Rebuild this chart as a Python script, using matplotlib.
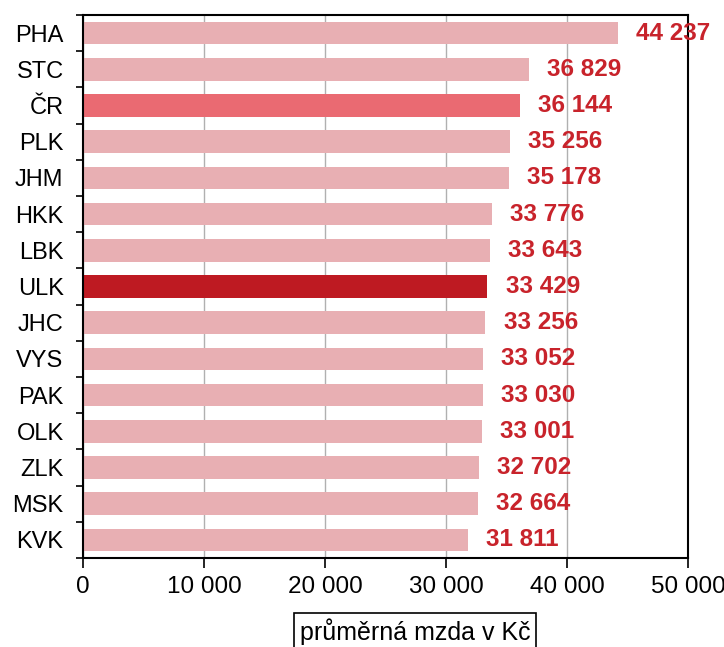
import matplotlib
matplotlib.use("Agg")
import matplotlib.pyplot as plt
from matplotlib.ticker import FuncFormatter, FixedLocator

regions = ["PHA", "STC", "ČR", "PLK", "JHM", "HKK", "LBK", "ULK", "JHC",
           "VYS", "PAK", "OLK", "ZLK", "MSK", "KVK"]
wages = [44237, 36829, 36144, 35256, 35178, 33776, 33643, 33429, 33256,
         33052, 33030, 33001, 32702, 32664, 31811]
xticks = [0, 10000, 20000, 30000, 40000, 50000]
xlabel = "průměrná mzda v Kč"

plt.rcParams['font.family'] = ['Liberation Sans', 'DejaVu Sans']

light = "#E8AFB3"
cr_col = "#EA6A72"
ulk_col = "#BE1A22"
colors = [cr_col if r == "ČR" else ulk_col if r == "ULK" else light for r in regions]

fig = plt.figure(figsize=(7.24, 6.47), dpi=100)
ax = fig.add_axes([83/724, 1-558/647, (688-83)/724, (558-15)/647])

n = len(regions)
ypos = list(range(n))
ax.barh(ypos, wages, height=0.62, color=colors, zorder=2)
ax.set_ylim(n - 0.5, -0.5)
ax.set_xlim(0, 50000)

fmt = lambda v: f"{int(v):,}".replace(",", " ")
for y, w in zip(ypos, wages):
    ax.text(w + 1500, y, fmt(w), va="center", ha="left", color="#C8232B",
            fontsize=17.5, fontweight="bold", zorder=3, clip_on=False)

ax.xaxis.set_major_locator(FixedLocator(xticks))
ax.xaxis.set_major_formatter(FuncFormatter(lambda v, p: fmt(v)))
ax.grid(axis="x", color="#B0B0B0", linewidth=1, zorder=0)
ax.set_yticks(ypos)
ax.set_yticklabels(regions)
ax.set_yticks([i + 0.5 for i in range(-1, n)], minor=True)
ax.tick_params(axis="y", which="major", length=0, pad=14, labelsize=17)
ax.tick_params(axis="y", which="minor", length=5, width=1.2, direction="out")
ax.tick_params(axis="x", length=7, width=1.2, direction="out", labelsize=17.5, pad=6)
for s in ax.spines.values():
    s.set_linewidth(1.5)
    s.set_color("black")

fig.text(415/724, 1-632/647, xlabel, ha="center", va="center", fontsize=18,
         bbox=dict(facecolor="white", edgecolor="black", linewidth=1.2, pad=4))

fig.savefig("out.png", dpi=100)
